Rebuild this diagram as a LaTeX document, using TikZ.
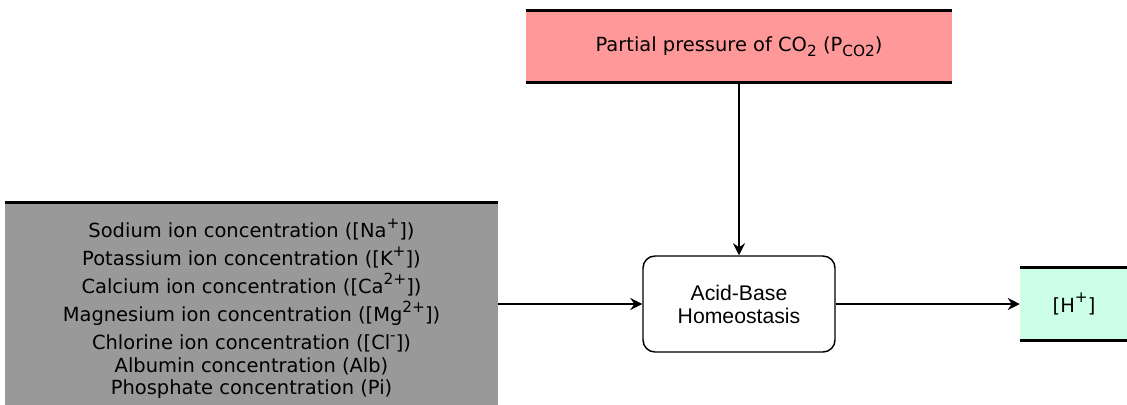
\documentclass[tikz,border=0pt]{standalone}
\usepackage{fontspec}
\setmainfont{DejaVu Sans}
\newfontfamily\arialfont{Liberation Sans}
\usepackage{xcolor}
\usetikzlibrary{arrows.meta,positioning}
\definecolor{pcofill}{HTML}{FF9999}
\definecolor{ionfill}{HTML}{999999}
\definecolor{hfill}{HTML}{CCFFE6}
\newcommand{\fixedlines}{\lineskiplimit=-20pt\relax}
\newcommand{\ionsup}[1]{\raisebox{0.5em}{\fontsize{11.5}{11.5}\selectfont #1}}
\newcommand{\gassub}[1]{\raisebox{-0.25em}{\fontsize{11.5}{11.5}\selectfont #1}}

\begin{document}
\begin{tikzpicture}[x=0.75pt,y=-0.75pt,
  font=\fontsize{14.6}{16.5}\selectfont\fixedlines, >={Stealth[length=9pt,width=9pt,inset=3pt]},
  store/.style={inner sep=0pt,align=center},
  lid/.style={line width=2.3pt},
  proc/.style={draw,line width=1.1pt,rounded corners=9pt,minimum width=144pt,minimum height=72pt,
    align=center,font=\arialfont\fontsize{15.9}{17.3}\selectfont},
  flow/.style={->,line width=1.1pt}]
\useasboundingbox (0,0) rectangle (1127,404);
\node[proc] (abh) at (739,304) {Acid-Base\\Homeostasis};
\node[store,fill=pcofill,minimum width=319.5pt,minimum height=53.25pt,above=129.75pt of abh] (pco2)
  {Partial pressure of CO\gassub{2} (P\gassub{CO2})};
\node[store,fill=ionfill,minimum width=369.75pt,minimum height=151.5pt,left=108pt of abh] (ions) {};
\node[align=center] (ionlist) at ([yshift=-3.4pt]ions.center) {%
  Sodium ion concentration ([Na\ionsup{+}])\\[4.5pt]
  Potassium ion concentration ([K\ionsup{+}])\\[4.5pt]
  Calcium ion concentration ([Ca\ionsup{2+}])\\[4.5pt]
  Magnesium ion concentration ([Mg\ionsup{2+}])\\[4.5pt]
  Chlorine ion concentration ([Cl\ionsup{-}])\\[0.5pt]
  Albumin concentration (Alb)\\
  Phosphate concentration (Pi)};
\node[store,fill=hfill,minimum width=81pt,minimum height=54pt,right=138pt of abh] (hplus) {[H\ionsup{+}]};
% lids of the stores
\draw[lid] (pco2.north west) -- (pco2.north east);
\draw[lid] (pco2.south west) -- (pco2.south east);
\draw[lid] (ions.north west) -- (ions.north east);
\draw[lid] (hplus.north west) -- (hplus.north east);
\draw[lid] (hplus.south west) -- (hplus.south east);
% flows
\draw[flow] (pco2) -- (abh);
\draw[flow] (ions) -- (abh);
\draw[flow] (abh) -- (hplus);
\end{tikzpicture}
\end{document}
